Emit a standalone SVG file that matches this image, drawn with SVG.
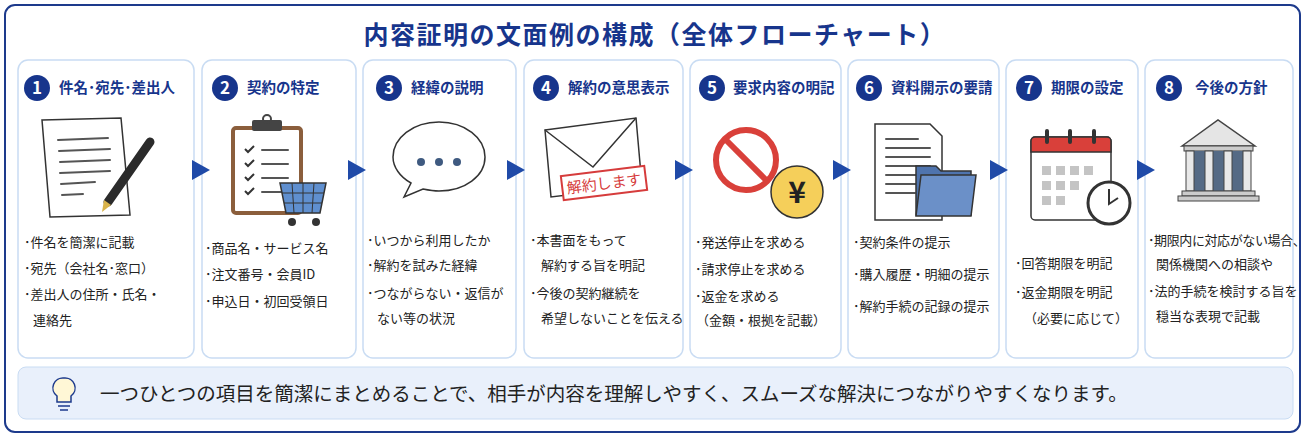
<svg xmlns="http://www.w3.org/2000/svg" width="1309" height="437" viewBox="0 0 1309 437">
<style>
text{font-family:"Noto Sans CJK JP","Noto Sans",sans-serif}
.card{fill:#fff;stroke:#c9dcf3;stroke-width:1.5}
.num{fill:#17358c}
.numt{fill:#fff;font-size:17px;font-weight:bold;text-anchor:middle}
.hd{fill:#17358c;font-size:14.5px;font-weight:bold}
.bt{fill:#222;font-size:13px}
.arr{fill:#1f4aa8}
.ln{stroke:#555;stroke-width:2;stroke-linecap:round}
</style>
<rect x="0" y="0" width="1309" height="437" fill="#fff"/>
<rect x="5" y="5" width="1295" height="427" rx="10" fill="#fff" stroke="#1d3a8c" stroke-width="2"/>
<text x="655" y="44" text-anchor="middle" fill="#17358c" font-size="25" font-weight="bold" letter-spacing="1.5">内容証明の文面例の構成（全体フローチャート）</text>

<g id="n1">
<rect class="card" x="18" y="60" width="176" height="298" rx="10"/>
<circle class="num" cx="37" cy="88" r="13"/><text class="numt" x="37" y="94">1</text>
<text class="hd" x="59" y="93">件名･宛先･差出人</text>
<polygon points="42,120 121,118 130,215 50,217" fill="#fff" stroke="#333" stroke-width="1.5"/>
<g class="ln" stroke-width="1.5"><line x1="58" y1="140" x2="108" y2="138"/><line x1="59" y1="151" x2="110" y2="149"/><line x1="60" y1="162" x2="110" y2="160"/><line x1="60" y1="173" x2="110" y2="171"/><line x1="61" y1="184" x2="95" y2="182"/><line x1="62" y1="195" x2="83" y2="194"/></g>
<line x1="150" y1="142" x2="108" y2="202" stroke="#2b2b2b" stroke-width="9" stroke-linecap="round"/>
<polygon points="104,200 111,205 102,212" fill="#d9b34a"/>
</g>

<g id="n2">
<rect class="card" x="202" y="60" width="154" height="298" rx="10"/>
<circle class="num" cx="225" cy="88" r="13"/><text class="numt" x="225" y="94">2</text>
<text class="hd" x="247" y="93">契約の特定</text>
<rect x="233" y="128" width="68" height="85" rx="3" fill="#fff" stroke="#8b5e3c" stroke-width="4"/>
<rect x="252" y="120" width="30" height="11" rx="2" fill="#444"/><circle cx="267" cy="119" r="4" fill="none" stroke="#444" stroke-width="2"/>
<g fill="none" stroke="#333" stroke-width="2"><path d="M245,149l3,3 6,-6"/><path d="M245,163l3,3 6,-6"/><path d="M245,177l3,3 6,-6"/><path d="M245,191l3,3 6,-6"/></g>
<g class="ln" stroke-width="1.5"><line x1="262" y1="150" x2="288" y2="150"/><line x1="262" y1="164" x2="288" y2="164"/><line x1="262" y1="178" x2="288" y2="178"/><line x1="262" y1="192" x2="288" y2="192"/></g>
<polygon points="280,183 326,183 320,213 286,213" fill="#5f8fcf" stroke="#333" stroke-width="1.5"/>
<g stroke="#333" stroke-width="1"><line x1="292" y1="183" x2="294" y2="213"/><line x1="303" y1="183" x2="303" y2="213"/><line x1="314" y1="183" x2="312" y2="213"/><line x1="282" y1="193" x2="324" y2="193"/><line x1="284" y1="203" x2="322" y2="203"/></g>
<circle cx="292" cy="222" r="4" fill="#333"/><circle cx="316" cy="222" r="4" fill="#333"/>
</g>

<g id="n3">
<rect class="card" x="363" y="60" width="153" height="298" rx="10"/>
<circle class="num" cx="389" cy="88" r="13"/><text class="numt" x="389" y="94">3</text>
<text class="hd" x="411" y="93">経緯の説明</text>
<path d="M439,122c26,0 46,16 46,35c0,19 -20,34 -46,34c-6,0 -11,-1 -16,-2l-19,8 7,-14c-11,-6 -18,-16 -18,-26c0,-19 20,-35 46,-35z" fill="#fff" stroke="#333" stroke-width="1.5"/>
<circle cx="421" cy="162" r="4" fill="#3f5a80"/><circle cx="439" cy="162" r="4" fill="#3f5a80"/><circle cx="457" cy="162" r="4" fill="#3f5a80"/>
</g>

<g id="n4">
<rect class="card" x="524" y="60" width="159" height="298" rx="10"/>
<circle class="num" cx="546" cy="88" r="13"/><text class="numt" x="546" y="94">4</text>
<text class="hd" x="568" y="93">解約の意思表示</text>
<polygon points="545,130 636,118 642,186 551,197" fill="#fff" stroke="#333" stroke-width="1.5"/>
<polyline points="545,130 593,167 636,118" fill="none" stroke="#333" stroke-width="1.5"/>
<rect x="562" y="171" width="84" height="24" transform="rotate(-7 604 183)" fill="#fff" stroke="#d63c3c" stroke-width="2"/>
<text x="604" y="189" transform="rotate(-7 604 183)" text-anchor="middle" fill="#d63c3c" font-size="15">解約します</text>
</g>

<g id="n5">
<rect class="card" x="690" y="60" width="151" height="298" rx="10"/>
<circle class="num" cx="712" cy="88" r="13"/><text class="numt" x="712" y="94">5</text>
<text class="hd" x="733" y="93">要求内容の明記</text>
<circle cx="746" cy="160" r="30" fill="none" stroke="#d9403a" stroke-width="6"/>
<line x1="725" y1="139" x2="767" y2="181" stroke="#d9403a" stroke-width="6"/>
<circle cx="797" cy="192" r="26" fill="#f5cf5a" stroke="#333" stroke-width="1.5"/>
<text x="797" y="203" text-anchor="middle" font-size="30" font-weight="bold" fill="#222">¥</text>
</g>

<g id="n6">
<rect class="card" x="848" y="60" width="151" height="298" rx="10"/>
<circle class="num" cx="869" cy="88" r="13"/><text class="numt" x="869" y="94">6</text>
<text class="hd" x="891" y="93">資料開示の要請</text>
<path d="M875,124h55l12,12v84h-67z" fill="#fff" stroke="#333" stroke-width="1.5"/>
<g class="ln" stroke="#888" stroke-width="1.5"><line x1="886" y1="139" x2="918" y2="139"/><line x1="886" y1="148" x2="930" y2="148"/><line x1="886" y1="157" x2="930" y2="157"/><line x1="886" y1="166" x2="930" y2="166"/><line x1="886" y1="175" x2="930" y2="175"/><line x1="886" y1="184" x2="930" y2="184"/><line x1="886" y1="193" x2="915" y2="193"/></g>
<path d="M916,166h20l5,5h30v44h-55z" fill="#4f74ae" stroke="#333" stroke-width="1.5"/>
<path d="M921,175h55l-5,41h-55z" fill="#6b90c8" stroke="#333" stroke-width="1.5"/>
</g>

<g id="n7">
<rect class="card" x="1006" y="60" width="132" height="298" rx="10"/>
<circle class="num" cx="1029" cy="88" r="13"/><text class="numt" x="1029" y="94">7</text>
<text class="hd" x="1051" y="93">期限の設定</text>
<rect x="1031" y="137" width="80" height="83" rx="4" fill="#fff" stroke="#333" stroke-width="1.5"/>
<path d="M1031,152v-11a4,4 0 0 1 4,-4h72a4,4 0 0 1 4,4v11z" fill="#d9403a" stroke="#333" stroke-width="1.5"/>
<g stroke="#333" stroke-width="4" stroke-linecap="round"><line x1="1047" y1="131" x2="1047" y2="142"/><line x1="1070" y1="131" x2="1070" y2="142"/><line x1="1094" y1="131" x2="1094" y2="142"/></g>
<g fill="#c4c4c4"><rect x="1042" y="166" width="9" height="9"/><rect x="1056" y="166" width="9" height="9"/><rect x="1070" y="166" width="9" height="9"/><rect x="1084" y="166" width="9" height="9"/><rect x="1042" y="181" width="9" height="9"/><rect x="1056" y="181" width="9" height="9"/><rect x="1070" y="181" width="9" height="9"/><rect x="1042" y="196" width="9" height="9"/><rect x="1056" y="196" width="9" height="9"/></g>
<circle cx="1109" cy="203" r="21" fill="#fff" stroke="#333" stroke-width="3"/>
<polyline points="1109,189 1109,204 1118,198" fill="none" stroke="#333" stroke-width="2"/>
</g>

<g id="n8">
<rect class="card" x="1145" y="60" width="148" height="298" rx="10"/>
<circle class="num" cx="1169" cy="88" r="13"/><text class="numt" x="1169" y="94">8</text>
<text class="hd" x="1195" y="93">今後の方針</text>
<polygon points="1182,146 1218,120 1255,146" fill="#e5e5e5" stroke="#444" stroke-width="1.5"/>
<rect x="1184" y="146" width="69" height="5" fill="#ccc" stroke="#444"/>
<g fill="#556a85"><rect x="1194" y="151" width="11" height="40"/><rect x="1213" y="151" width="11" height="40"/><rect x="1232" y="151" width="11" height="40"/></g>
<g fill="#e8e8e8" stroke="#444"><rect x="1186" y="151" width="8" height="40"/><rect x="1205" y="151" width="8" height="40"/><rect x="1224" y="151" width="8" height="40"/><rect x="1243" y="151" width="8" height="40"/></g>
<rect x="1182" y="191" width="73" height="5" fill="#ccc" stroke="#444"/>
<rect x="1178" y="196" width="81" height="5" fill="#ccc" stroke="#444"/>
</g>

<g id="connectors">
<polygon class="arr" points="192,160 210,170 192,180"/>
<polygon class="arr" points="348,160 366,170 348,180"/>
<polygon class="arr" points="507,160 525,170 507,180"/>
<polygon class="arr" points="675,160 693,170 675,180"/>
<polygon class="arr" points="833,160 851,170 833,180"/>
<polygon class="arr" points="990,160 1008,170 990,180"/>
<polygon class="arr" points="1137,160 1155,170 1137,180"/>
</g>

<g id="texts">
<text class="bt" x="24" y="247">･件名を簡潔に記載</text>
<text class="bt" x="24" y="273">･宛先（会社名･窓口）</text>
<text class="bt" x="24" y="299">･差出人の住所・氏名・</text>
<text class="bt" x="33" y="325">連絡先</text>
<text class="bt" x="205" y="253">･商品名・サービス名</text>
<text class="bt" x="205" y="279">･注文番号・会員ID</text>
<text class="bt" x="205" y="306">･申込日・初回受領日</text>
<text class="bt" x="367" y="245">･いつから利用したか</text>
<text class="bt" x="367" y="270">･解約を試みた経緯</text>
<text class="bt" x="367" y="298">･つながらない・返信が</text>
<text class="bt" x="377" y="323">ない等の状況</text>
<text class="bt" x="530" y="245">･本書面をもって</text>
<text class="bt" x="541" y="270">解約する旨を明記</text>
<text class="bt" x="530" y="298">･今後の契約継続を</text>
<text class="bt" x="541" y="323" font-size="12.5">希望しないことを伝える</text>
<text class="bt" x="695" y="247">･発送停止を求める</text>
<text class="bt" x="695" y="274">･請求停止を求める</text>
<text class="bt" x="695" y="301">･返金を求める</text>
<text class="bt" x="696" y="325">（金額・根拠を記載）</text>
<text class="bt" x="853" y="247">･契約条件の提示</text>
<text class="bt" x="853" y="279">･購入履歴・明細の提示</text>
<text class="bt" x="853" y="311">･解約手続の記録の提示</text>
<text class="bt" x="1015" y="268">･回答期限を明記</text>
<text class="bt" x="1015" y="297">･返金期限を明記</text>
<text class="bt" x="1024" y="323">（必要に応じて）</text>
<text class="bt" x="1148" y="245" font-size="11.8" letter-spacing="-0.4">･期限内に対応がない場合、</text>
<text class="bt" x="1156" y="269">関係機関への相談や</text>
<text class="bt" x="1148" y="296">･法的手続を検討する旨を</text>
<text class="bt" x="1156" y="321">穏当な表現で記載</text>
</g>

<g id="note">
<rect x="18" y="367" width="1275" height="52" rx="8" fill="#e9f0fb" stroke="#c9dcf3"/>
<path d="M64,378a10,10 0 0 1 7,18v6h-14v-6a10,10 0 0 1 7,-18z" fill="#fff7d6" stroke="#1d3a8c" stroke-width="1.5"/>
<line x1="58" y1="406" x2="70" y2="406" stroke="#1d3a8c" stroke-width="1.5"/>
<line x1="60" y1="410" x2="68" y2="410" stroke="#1d3a8c" stroke-width="1.5"/>
<text x="100" y="401" fill="#222" font-size="19.5">一つひとつの項目を簡潔にまとめることで、相手が内容を理解しやすく、スムーズな解決につながりやすくなります。</text>
</g>
</svg>
